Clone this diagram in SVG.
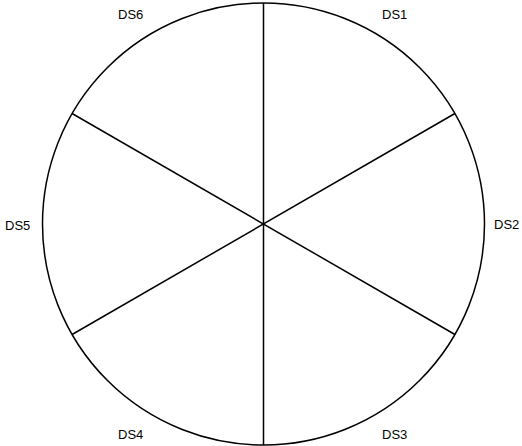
<svg xmlns="http://www.w3.org/2000/svg" width="522" height="446" viewBox="0 0 522 446">
<style>
.l{stroke:#000;stroke-width:1.5;fill:none}
text{font-family:"Liberation Sans",Arial,sans-serif;font-size:13px;fill:#000}
</style>
<rect width="522" height="446" fill="#fff"/>
<g id="wheel">
<circle class="l" cx="263.5" cy="224" r="221"/>
</g>
<g id="connectors">
<line class="l" x1="263.5" y1="3" x2="263.5" y2="445"/>
<line class="l" x1="72.1" y1="113.5" x2="454.9" y2="334.5"/>
<line class="l" x1="72.1" y1="334.5" x2="454.9" y2="113.5"/>
</g>
<g id="DS1"><text x="382" y="19">DS1</text></g>
<g id="DS2"><text x="494" y="229">DS2</text></g>
<g id="DS3"><text x="382" y="439">DS3</text></g>
<g id="DS4"><text x="118" y="439">DS4</text></g>
<g id="DS5"><text x="5" y="230">DS5</text></g>
<g id="DS6"><text x="118" y="19">DS6</text></g>
</svg>
